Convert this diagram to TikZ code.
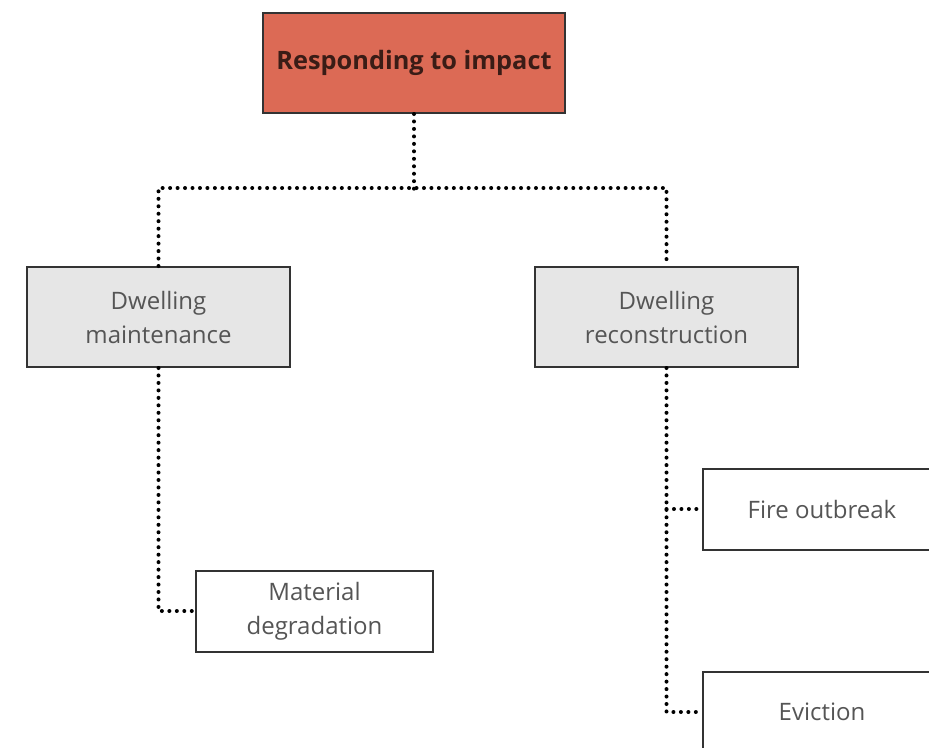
\documentclass[tikz,border=0pt]{standalone}
\usepackage{fontspec}
\setmainfont{Open Sans}
\usepackage{xcolor}
\definecolor{impactred}{HTML}{DC6A55}
\definecolor{topicgray}{HTML}{E6E6E6}
\definecolor{boxline}{HTML}{333333}
\definecolor{txtgray}{HTML}{555555}
\definecolor{headtxt}{HTML}{3A1C16}
\begin{document}
\begin{tikzpicture}[x=0.75pt,y=-0.75pt,font=\fontsize{18}{25.5}\selectfont,
    base/.style={rectangle,draw=boxline,line width=1.5pt,align=center,text=txtgray,inner sep=0pt},
    head/.style={base,fill=impactred,minimum width=226.5pt,minimum height=75pt,text=headtxt,font=\fontsize{19}{25.5}\selectfont\bfseries},
    topic/.style={base,fill=topicgray,minimum width=197pt,minimum height=75pt},
    leaf/.style={base,fill=white,minimum width=178pt,minimum height=60.75pt},
    link/.style={line width=3pt,dash pattern=on 0pt off 5.6pt,line cap=round}]

    \clip (0,0) rectangle (929,747);
    \useasboundingbox (0,0) rectangle (929,747);

    \node[head] (impact) at (414,63)
    {Responding to impact};

    \node[topic] (maint) at (158.5,317)
    {Dwelling\\maintenance};
    \node[topic] (recon) at (666.5,317)
    {Dwelling\\reconstruction};

    \node[leaf] (degr) at (314.5,611)
    {Material\\degradation};
    \node[leaf] (fire) at (822,509)
    {Fire outbreak};
    \node[leaf] (evict) at (822,712)
    {Eviction};

    \path[link]
    {
        (impact.south) edge ++(0,75)
    };
    \coordinate (hub) at (414,188);

    \draw[link] (maint.north) |- (hub) -| (recon.north);

    \draw[link] (maint.south) |- (degr.west);
    \draw[link] (recon.south) |- (evict.west);
    \draw[link] (recon.south |- fire.west) -- (fire.west);
\end{tikzpicture}
\end{document}
